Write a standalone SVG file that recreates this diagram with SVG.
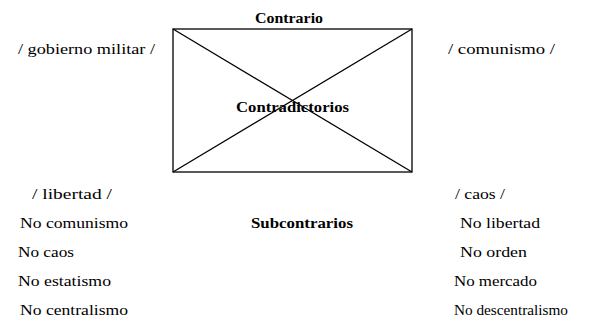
<svg xmlns="http://www.w3.org/2000/svg" width="591" height="322" viewBox="0 0 591 322">
<style>
.t{font-family:"Liberation Serif","DejaVu Serif",serif;font-size:15px;fill:#000}
.b{font-family:"Liberation Serif","DejaVu Serif",serif;font-size:15px;font-weight:bold;fill:#000}
.ln{stroke:#000;stroke-width:1.3;fill:none}
</style>
<rect width="591" height="322" fill="#fff"/>
<g id="square">
<rect class="ln" x="173" y="29" width="239" height="143"/>
</g>
<g id="connectors">
<line class="ln" x1="173" y1="29" x2="412" y2="172"/>
<line class="ln" x1="412" y1="29" x2="173" y2="172"/>
</g>
<g id="contrario"><text class="b" x="255" y="23" textLength="68" lengthAdjust="spacingAndGlyphs">Contrario</text></g>
<g id="contradictorios"><text class="b" x="236" y="112" textLength="113" lengthAdjust="spacingAndGlyphs">Contradictorios</text></g>
<g id="subcontrarios"><text class="b" x="251" y="228" textLength="102" lengthAdjust="spacingAndGlyphs">Subcontrarios</text></g>
<g id="gobierno"><text class="t" x="18" y="54" textLength="137" lengthAdjust="spacingAndGlyphs">/ gobierno militar /</text></g>
<g id="comunismo"><text class="t" x="448" y="54" textLength="107" lengthAdjust="spacingAndGlyphs">/ comunismo /</text></g>
<g id="left-list">
<text class="t" x="32" y="199" textLength="80" lengthAdjust="spacingAndGlyphs">/ libertad /</text>
<text class="t" x="20" y="228" textLength="108" lengthAdjust="spacingAndGlyphs">No comunismo</text>
<text class="t" x="18" y="257" textLength="56" lengthAdjust="spacingAndGlyphs">No caos</text>
<text class="t" x="18" y="286" textLength="93" lengthAdjust="spacingAndGlyphs">No estatismo</text>
<text class="t" x="20" y="315" textLength="108" lengthAdjust="spacingAndGlyphs">No centralismo</text>
</g>
<g id="right-list">
<text class="t" x="455" y="199" textLength="50" lengthAdjust="spacingAndGlyphs">/ caos /</text>
<text class="t" x="460" y="228" textLength="80" lengthAdjust="spacingAndGlyphs">No libertad</text>
<text class="t" x="460" y="257" textLength="67" lengthAdjust="spacingAndGlyphs">No orden</text>
<text class="t" x="454" y="286" textLength="83" lengthAdjust="spacingAndGlyphs">No mercado</text>
<text class="t" x="454" y="315" textLength="114" lengthAdjust="spacingAndGlyphs">No descentralismo</text>
</g>
</svg>
